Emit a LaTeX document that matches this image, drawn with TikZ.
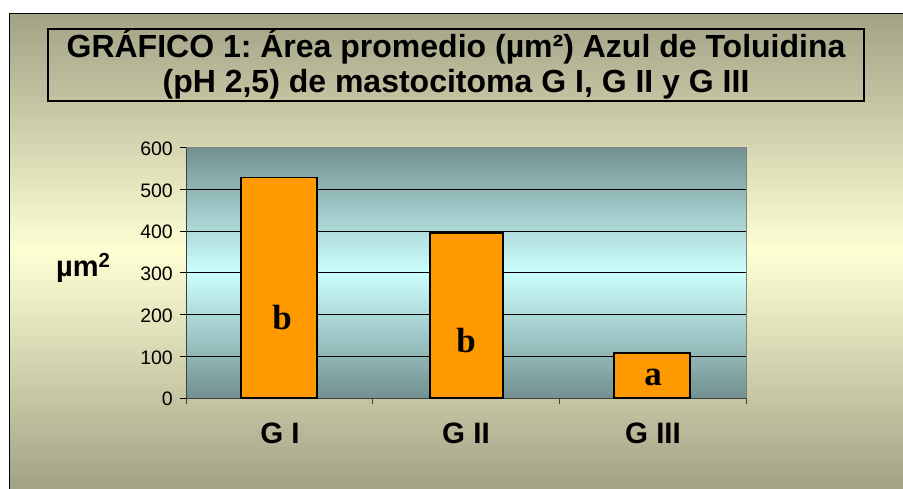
\documentclass[tikz,border=0pt]{standalone}
\usepackage{fontspec}
\setmainfont{Liberation Sans}
\newfontfamily\letterfont{Liberation Serif}
\frenchspacing
\definecolor{chartdark}{RGB}{163,163,135}
\definecolor{chartlight}{RGB}{255,255,212}
\definecolor{plotdark}{RGB}{116,146,146}
\definecolor{plotlight}{RGB}{204,255,255}
\definecolor{barorange}{RGB}{255,153,0}

\begin{document}
\begin{tikzpicture}[x=1pt, y=-1pt,
  titletext/.style={font=\fontsize{32}{36}\selectfont\bfseries, anchor=base, inner sep=0pt},
  barbox/.style={fill=barorange, draw=black, line width=1.4pt},
  ticklabel/.style={font=\fontsize{19.5}{20}\selectfont, anchor=east, inner sep=0pt},
  catlabel/.style={font=\fontsize{29.5}{30}\selectfont\bfseries, anchor=base, inner sep=0pt},
  letterlabel/.style={font=\fontsize{35}{36}\selectfont\letterfont\bfseries, anchor=base, inner sep=0pt}]
  \useasboundingbox (0,0) rectangle (903,489);
  \fill[white] (0,0) rectangle (903,489);

  % Chart area (banded gradient)
  \foreach \i in {0,...,79} {
    \pgfmathsetmacro{\p}{abs(\i-39.5)/39.5*100}
    \fill[chartdark!\p!chartlight] (9,{14+\i*5.9375}) rectangle (903,{14+(\i+1)*5.9375+0.5});
  }
  \draw[line width=1pt] (9,489) -- (9,14) -- (903,14);

  % Title
  \draw[line width=1.5pt] (48,29) rectangle (864,101);
  \node[titletext] (title1) at (456,58) {GRÁFICO 1: Área promedio (µm²) Azul de Toluidina};
  \node[titletext] (title2) at (456,93) {(pH 2,5) de mastocitoma G I, G II y G III};

  % Plot area (banded gradient)
  \foreach \i in {0,...,59} {
    \pgfmathsetmacro{\p}{abs(\i-29.5)/29.5*100}
    \fill[plotdark!\p!plotlight] (186,{147.5+\i*4.175}) rectangle (746,{min(398,147.5+(\i+1)*4.175+0.5)});
  }
  \draw[gray, line width=1pt] (186,147.5) rectangle (746,398);

  % Unit label
  \node[font=\fontsize{29}{30}\selectfont\bfseries, anchor=base west, inner sep=0pt] (unit) at (56,277) {µm\textsuperscript{2}};

  \begin{scope}[shift={(186,398)}, y=0.4175pt]
    % Grid and value axis
    \foreach \v in {100,200,...,500}
      \draw[line width=0.9pt] (0,\v) -- (560,\v);
    \draw[line width=1pt, black!75] (0,600) -- (0,0) -- (560,0);
    \foreach \v in {0,100,...,600} {
      \draw[line width=0.9pt] (-6,\v) -- (0,\v);
      \node[ticklabel] (ylabel\v) at (-13,-2.5+\v) {\v};
    }
    \foreach \x in {0,186.67,373.33,560}
      \draw[line width=0.9pt, black!75] (\x,0) -- (\x,-14);

    % Bars
    \draw[barbox] (55,0) rectangle (131,528);
    \draw[barbox] (244,0) rectangle (317,395);
    \draw[barbox] (428,0) rectangle (504,108);

    % Significance letters
    \node[letterlabel] (gone) at (96,163) {b};
    \node[letterlabel] (gtwo) at (280,108) {b};
    \node[letterlabel] (gthree) at (467,29) {a};

    % Categories
    \node[catlabel] (catone) at (94,-110) {G I};
    \node[catlabel] (cattwo) at (280,-110) {G II};
    \node[catlabel] (catthree) at (467,-110) {G III};
  \end{scope}
\end{tikzpicture}
\end{document}
